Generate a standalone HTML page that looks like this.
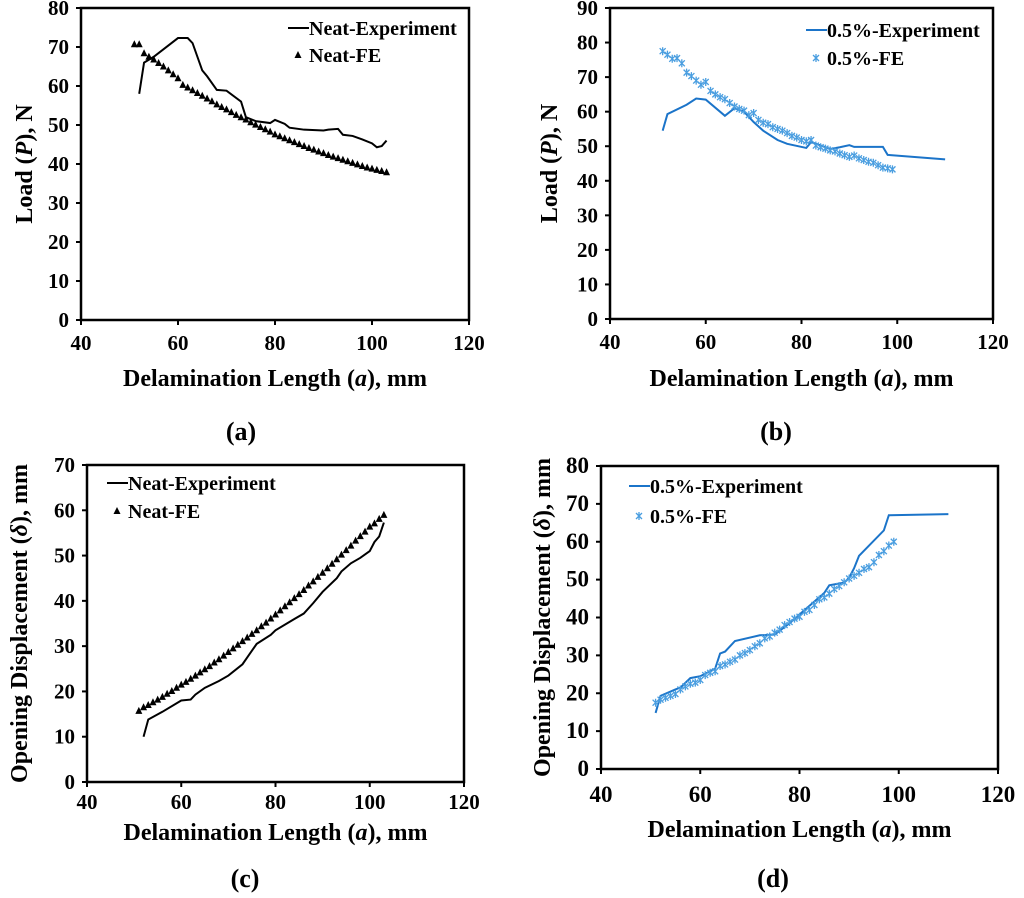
<!DOCTYPE html>
<html><head><meta charset="utf-8"><style>
html,body{margin:0;padding:0;background:#fff}
svg{display:block}
text{font-family:"Liberation Serif",serif;font-weight:bold;fill:#000}
</style></head><body>
<svg id="s" width="1024" height="898" viewBox="0 0 1024 898" xmlns="http://www.w3.org/2000/svg"></svg>
<script>
const NS="http://www.w3.org/2000/svg";
const BLUE="#1b74c9", LBLUE="#4a9ee0";
// Panel (a)
const aExpX=[52,53,55,60,62,63,65,66,68,70,73,74,76,79,80,82,83,86,90,91,93,94,96,98,100,101,102,103];
const aExpY=[58,66,67.5,72.3,72.3,71,64,62.5,59,58.8,56,52,51,50.5,51.3,50.3,49.3,48.8,48.6,48.8,49,47.5,47.2,46.3,45.3,44.3,44.6,46];
const aFeX=[51,52,53,54,55,56,57,58,59,60,61,62,63,64,65,66,67,68,69,70,71,72,73,74,75,76,77,78,79,80,81,82,83,84,85,86,87,88,89,90,91,92,93,94,95,96,97,98,99,100,101,102,103];
const aFeY=[70.7,70.7,68.4,67.5,66.8,65.9,65,64,63,62,60.3,59.6,58.9,58.2,57.5,56.8,56.1,55.3,54.6,54,53.3,52.6,52,51.4,50.7,50.1,49.5,48.9,48.3,47.6,47.1,46.6,46.1,45.6,45.1,44.6,44.1,43.7,43.2,42.8,42.3,41.9,41.5,41.1,40.7,40.3,39.9,39.5,39.1,38.8,38.5,38.2,37.9];
// Panel (b)
const bExpX=[51,52,56,58,60,64,66,68,70,72,75,77,81,82,86,88,90,91,97,98,110];
const bExpY=[54.5,59.3,62,63.8,63.5,58.8,61,60,57,54.5,51.8,50.7,49.5,51.2,49.2,49.7,50.3,49.8,49.8,47.5,46.2];
const bFeX=[51,52,53,54,55,56,57,58,59,60,61,62,63,64,65,66,67,68,69,70,71,72,73,74,75,76,77,78,79,80,81,82,83,84,85,86,87,88,89,90,91,92,93,94,95,96,97,98,99];
const bFeY=[77.5,76.5,75.3,75.5,74,71.3,70.3,69,67.8,68.6,66,65,64.2,63.6,62.5,61.5,60.8,60.3,59,59.6,57.6,56.8,56.4,55.5,55,54.5,53.8,53,52.5,51.8,51.4,51.8,50.2,49.7,49.3,48.8,48.5,47.9,47.4,46.9,47.3,46.5,46,45.5,45.2,44.5,43.8,43.6,43.3];
// Panel (c)
const cExpX=[52,53,56,60,62,63,65,68,70,73,74,76,79,80,84,86,88,90,93,94,96,98,100,101,102,103];
const cExpY=[10,13.8,15.5,18,18.2,19.3,20.8,22.3,23.5,26,27.5,30.5,32.5,33.5,36,37.2,39.5,42,45,46.5,48.3,49.5,51,53,54.2,57.3];
const cFeX=aFeX;
const cFeY=[15.7,16.5,17,17.6,18.2,18.8,19.5,20.1,20.8,21.5,22.1,22.8,23.5,24.2,24.9,25.6,26.4,27.1,27.9,28.7,29.5,30.3,31.1,31.9,32.7,33.5,34.4,35.2,36.1,37,37.9,38.8,39.7,40.6,41.5,42.4,43.4,44.3,45.3,46.2,47.2,48.2,49.2,50.2,51.2,52.2,53.3,54.3,55.3,56.4,57.1,58.1,59];
// Panel (d)
const dExpX=[51,52,55,56,58,60,63,64,65,67,72,75,78,85,86,89,90,91,92,97,98,110];
const dExpY=[14.8,19.3,21,21.5,24,24.5,26.5,30.5,31,33.8,35.3,35.5,38.5,46.5,48.5,49.2,50.5,53,56.3,63,67,67.3];
const dFeX=bFeX;
const dFeY=[17.5,18.3,18.8,19.3,19.8,21,21.8,22.5,22.8,23.5,24.8,25.4,25.8,27.2,27.6,28.3,28.9,30,30.6,31.4,32.4,33.2,34.5,35,36,36.8,38,38.8,39.7,40.2,41.5,42,43.3,44.8,45.3,46.3,47.5,48.3,49.3,50.3,51,51.8,52.8,53.3,54.6,56.5,57.5,59,60];
const xTicks=[40,60,80,100,120];
const yTicksA=[0,10,20,30,40,50,60,70,80];
const yTicksB=[0,10,20,30,40,50,60,70,80,90];
const yTicksC=[0,10,20,30,40,50,60,70];
const yTicksD=[0,10,20,30,40,50,60,70,80];

const svg=document.getElementById('s');
function mk(tag,attrs,parent){const e=document.createElementNS(NS,tag);for(const k in attrs)e.setAttribute(k,attrs[k]);(parent||svg).appendChild(e);return e;}

function panel(p){
  const g=mk('g',{});
  
  
  const sx=v=>p.x0+(v-40)/80*(p.x1-p.x0);
  const sy=v=>p.y1-(v/p.ymax)*(p.y1-p.y0);
  const frame=mk('rect',{x:p.x0,y:p.y0,width:p.x1-p.x0,height:p.y1-p.y0,fill:'none',stroke:'#000','stroke-width':2.5},g);
  
  
  xTicks.forEach(t=>{
    mk('line',{x1:sx(t),x2:sx(t),y1:p.y1,y2:p.y1+5,stroke:'#000','stroke-width':2},g);
    const tx=mk('text',{x:sx(t),y:p.y1+p.xlOff,'text-anchor':'middle','font-size':p.tfs},g);
    tx.textContent=t;
    
    
  });
  p.yt.forEach(t=>{
    mk('line',{x1:p.x0-5,x2:p.x0,y1:sy(t),y2:sy(t),stroke:'#000','stroke-width':2},g);
    const tx=mk('text',{x:p.x0-12,y:sy(t)+7,'text-anchor':'end','font-size':p.tfs},g);
    tx.textContent=t;
    
    
  });
  const col=p.blue?BLUE:'#000';
  const pts=p.ex.map((x,i)=>sx(x)+','+sy(p.ey[i])).join(' ');
  const ln=mk('polyline',{points:pts,fill:'none',stroke:col,'stroke-width':2},g);
  
  
  const fg=mk('g',{},g);
  
  
  p.fx.forEach((x,i)=>marker(fg,sx(x),sy(p.fy[i]),p.blue));
  // legend
  const lx=p.lx, ly=p.ly;
  const ll=mk('line',{x1:lx,x2:lx+21,y1:ly,y2:ly,stroke:col,'stroke-width':2},g);
  
  
  const t1=mk('text',{x:lx+21,y:ly+7,'font-size':20},g);
  t1.textContent=p.blue?'0.5%-Experiment':'Neat-Experiment';
  
  
  marker(g,lx+10,ly+p.lgap,p.blue);
  const t2=mk('text',{x:lx+21,y:ly+p.lgap+7,'font-size':20},g);
  t2.textContent=p.blue?'0.5%-FE':'Neat-FE';
  
  
  // titles
  const xt=mk('text',{x:(p.x0+p.x1)/2,y:p.xtY,'text-anchor':'middle','font-size':24},g);
  xt.innerHTML='Delamination Length (<tspan font-style="italic">a</tspan>), mm';
  
  
  const yt=mk('text',{x:0,y:0,'text-anchor':'middle','font-size':24,transform:`translate(${p.ytX},${(p.y0+p.y1)/2}) rotate(-90)`},g);
  yt.innerHTML=p.ytitle;
  
  
  const cap=mk('text',{x:p.capX,y:p.capY,'text-anchor':'middle','font-size':26},g);
  cap.textContent='('+p.id+')';
  
  
}
function marker(g,x,y,blue){
  if(!blue){
    mk('polygon',{points:`${x},${y-4} ${x-3.5},${y+3} ${x+3.5},${y+3}`,fill:'#000'},g);
  } else {
    const s=3;
    mk('path',{d:`M${x-s},${y-s}L${x+s},${y+s}M${x-s},${y+s}L${x+s},${y-s}M${x},${y-s-1}L${x},${y+s+1}`,stroke:LBLUE,'stroke-width':1.3,fill:'none'},g);
  }
}
panel({id:'a',x0:81,x1:469,y0:8,y1:320,ymax:80,yt:yTicksA,ex:aExpX,ey:aExpY,fx:aFeX,fy:aFeY,blue:false,lx:288,ly:28,lgap:27,xtY:386,ytX:32,ytitle:'Load (<tspan font-style="italic">P</tspan>), N',capX:241,capY:440,xlOff:30,tfs:21});
panel({id:'b',x0:610,x1:993,y0:8,y1:319,ymax:90,yt:yTicksB,ex:bExpX,ey:bExpY,fx:bFeX,fy:bFeY,blue:true,lx:806,ly:30,lgap:28,xtY:386,ytX:557,ytitle:'Load (<tspan font-style="italic">P</tspan>), N',capX:776,capY:440,xlOff:30,tfs:21});
panel({id:'c',x0:87,x1:464,y0:465,y1:782,ymax:70,yt:yTicksC,ex:cExpX,ey:cExpY,fx:cFeX,fy:cFeY,blue:false,lx:107,ly:483,lgap:28,xtY:840,ytX:27,ytitle:'Opening Displacement (<tspan font-style="italic">δ</tspan>), mm',capX:245,capY:887,xlOff:27,tfs:21});
panel({id:'d',x0:601,x1:998,y0:466,y1:769,ymax:80,yt:yTicksD,ex:dExpX,ey:dExpY,fx:dFeX,fy:dFeY,blue:true,lx:629,ly:486,lgap:30,xtY:837,ytX:550,ytitle:'Opening Displacement (<tspan font-style="italic">δ</tspan>), mm',capX:773,capY:887,xlOff:33,tfs:23});
</script>
</body></html>
